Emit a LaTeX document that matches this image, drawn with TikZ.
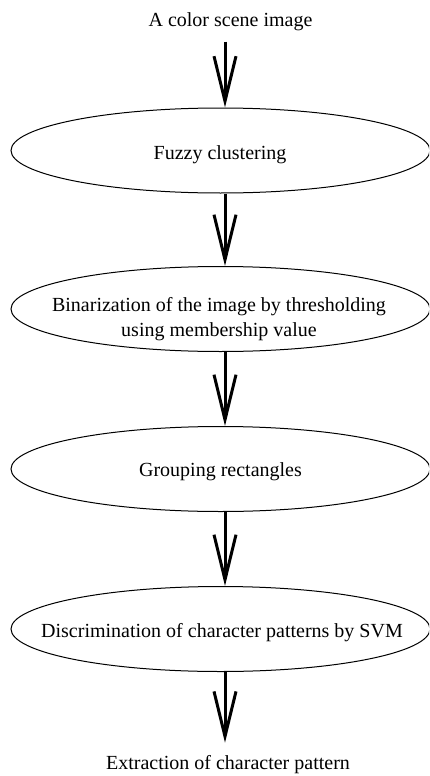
\documentclass[tikz,border=0pt]{standalone}
\usepackage{fontspec}
\setmainfont{Liberation Serif}
\usetikzlibrary{shapes.geometric,arrows.meta}
\begin{document}
\begin{tikzpicture}[x=1pt,y=-1pt,
  stage/.style={ellipse,draw,line width=1pt,minimum width=419pt,minimum height=85pt,inner sep=0pt},
  lbl/.style={font=\fontsize{20}{25}\selectfont,inner sep=0pt,align=center},
  flow/.style={line width=3pt,-{Straight Barb[length=45pt,width=22pt]}}]
\useasboundingbox (0,0) rectangle (429,776);
\clip (0,0) rectangle (429,776);
% stages
\node[stage] (e1) at (220.5,150.5) {};
\node[stage] (e2) at (220.5,309) {};
\node[stage] (e3) at (220.5,469) {};
\node[stage] (e4) at (220.5,629) {};
% texts
\node[lbl,anchor=base] (title) at (230.5,26.5) {A color scene image};
\node[lbl,anchor=base] (t1) at (220,159) {Fuzzy clustering};
\node[lbl,anchor=center] (t2) at (219,319.5) {Binarization of the image by thresholding\\using membership value};
\node[lbl,anchor=base] (t3) at (220.5,476.7) {Grouping rectangles};
\node[lbl,anchor=base] (t4) at (222,637.3) {Discrimination of character patterns by SVM};
\node[lbl,anchor=base] (out) at (228,769.5) {Extraction of character pattern};
% arrows
\draw[flow] ([xshift=-5.5pt,yshift=-10.5pt]title.south) -- ([xshift=4.5pt]e1.north);
\draw[flow] ([xshift=4.5pt]e1.south) -- ([xshift=4.5pt]e2.north);
\draw[flow] ([xshift=4.5pt]e2.south) -- ([xshift=4.5pt]e3.north);
\draw[flow] ([xshift=4.5pt]e3.south) -- ([xshift=4.5pt]e4.north);
\draw[flow] ([xshift=4.5pt]e4.south) -- ([xshift=-3pt,yshift=12.5pt]out.north);
\end{tikzpicture}
\end{document}
